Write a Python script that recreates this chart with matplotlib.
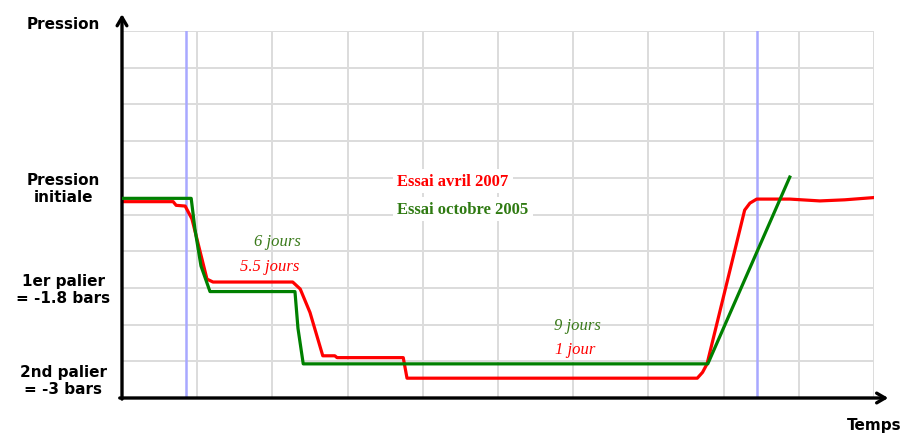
import matplotlib.pyplot as plt

# time axis in grid columns (0..10), pressure in grid rows (0..10)
green_x = [0.0, 0.92, 0.97, 1.05, 1.17, 2.30, 2.34, 2.41, 7.79, 8.88]
green_y = [5.44, 5.44, 4.60, 3.60, 2.90, 2.90, 1.90, 0.93, 0.93, 6.02]

red_x = [0.0, 0.68, 0.72, 0.84, 0.93, 1.13, 1.21, 2.27, 2.37, 2.50, 2.67,
         2.83, 2.86, 3.74, 3.79, 7.65, 7.72, 7.78, 8.28, 8.35, 8.44,
         8.88, 9.28, 9.61, 9.99]
red_y = [5.35, 5.35, 5.25, 5.23, 4.88, 3.24, 3.16, 3.16, 2.97, 2.33, 1.15,
         1.15, 1.10, 1.10, 0.54, 0.54, 0.70, 0.93, 5.12, 5.31, 5.42,
         5.42, 5.37, 5.40, 5.46]

blue_marks = [0.85, 8.44]

y_labels = ['Pression\ninitiale', '1er palier\n= -1.8 bars', '2nd palier\n= -3 bars']
y_label_pos = [5.72, 2.97, 0.49]

fig = plt.figure(figsize=(9.06, 4.35), dpi=100)
ax = fig.add_axes([122 / 906, 36 / 435, 752 / 906, 367 / 435])
ax.set_xlim(0, 10)
ax.set_ylim(0, 10)
ax.set_xticks(range(11))
ax.set_yticks(range(11))
ax.tick_params(length=0, labelbottom=False, labelleft=False)
for s in ax.spines.values():
    s.set_visible(False)
ax.grid(True, color='#dcdcdc', lw=1.4)
ax.set_axisbelow(True)

for bx in blue_marks:
    ax.axvline(bx, color='#a8a8ff', lw=1.8, zorder=1)

ax.plot(red_x, red_y, color='#ff0000', lw=2.3, zorder=3, solid_joinstyle='round')
ax.plot(green_x, green_y, color='#008000', lw=2.3, zorder=4, solid_joinstyle='round')

# axes with arrows
arrow = dict(arrowstyle='->,head_width=0.35,head_length=0.6', color='black', lw=2.4,
             shrinkA=0, shrinkB=0)
ax.annotate('', xy=(0, 10.46), xytext=(0, -0.03), arrowprops=arrow, annotation_clip=False)
ax.annotate('', xy=(10.19, 0), xytext=(-0.03, 0), arrowprops=arrow, annotation_clip=False)

bold = dict(fontsize=11, fontweight='bold', family='DejaVu Sans', ha='center', va='center')
ax.text(-0.78, 10.2, 'Pression', **bold, clip_on=False)
for lab, yp in zip(y_labels, y_label_pos):
    ax.text(-0.78, yp, lab, linespacing=1.1, **bold, clip_on=False)
ax.text(10.0, -0.72, 'Temps', **bold, clip_on=False)

# legend-like texts
box = dict(facecolor='white', edgecolor='none', pad=3)
ax.text(3.66, 5.91, 'Essai avril 2007', color='#ff0000', fontsize=12, fontweight='bold',
        family='Liberation Serif', va='center', bbox=box, zorder=5)
ax.text(3.66, 5.15, 'Essai octobre 2005', color='#2f7a12', fontsize=12, fontweight='bold',
        family='Liberation Serif', va='center', bbox=box, zorder=5)

it = dict(fontsize=12, style='italic', family='Liberation Serif', ha='center', va='center')
ax.text(2.07, 4.28, '6 jours', color='#3a7a1a', **it)
ax.text(1.97, 3.60, '5.5 jours', color='#ff0000', **it)
ax.text(6.05, 2.00, '9 jours', color='#3a7a1a', **it)
ax.text(6.02, 1.33, '1 jour', color='#ff0000', **it)

fig.savefig('out.png', dpi=100)
